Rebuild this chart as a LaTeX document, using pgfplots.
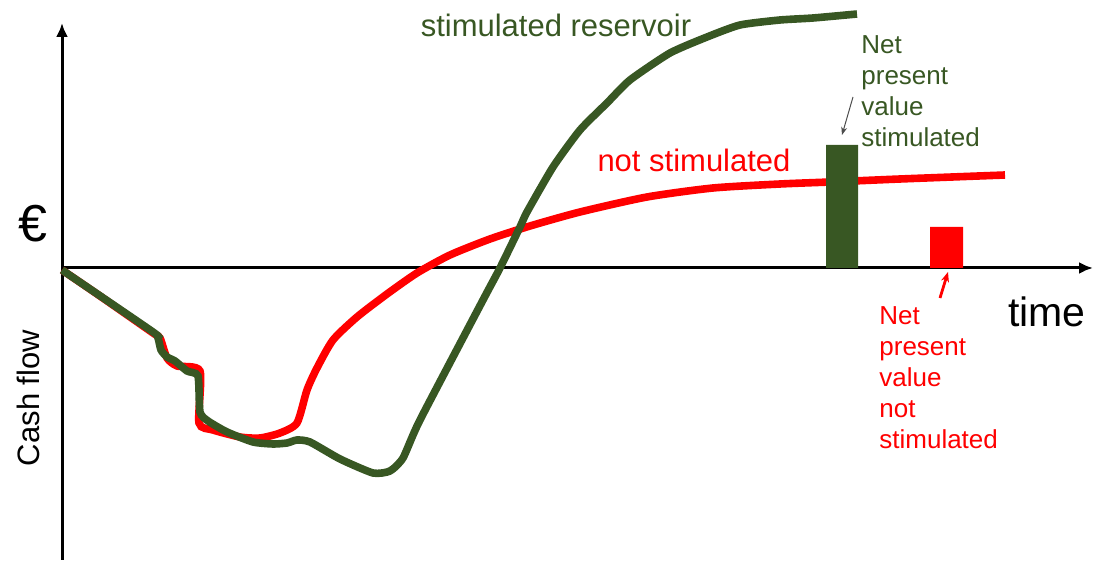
\documentclass[border=0pt]{standalone}
\usepackage{fontspec}
\setmainfont{Liberation Sans}
\usepackage{pgfplots}
\pgfplotsset{compat=1.18}
\usetikzlibrary{arrows.meta}
\definecolor{dkgreen}{RGB}{56,87,35}
\definecolor{myred}{RGB}{255,0,0}
\begin{document}
\begin{tikzpicture}
\begin{axis}[
  scale only axis, width=547pt, height=283.5pt,
  xmin=0, xmax=1094, ymin=-299, ymax=268,
  hide axis, clip=false]
% axes
\addplot[black, line width=1.5pt, -{Latex[length=7pt,width=6pt]}] coordinates {(62,-292) (62,245)};
\addplot[black, line width=1.5pt, -{Latex[length=7pt,width=6pt]}] coordinates {(62,0) (1093,0)};
% not stimulated
\addplot[myred, line width=3.8pt, smooth, tension=0.4] coordinates {
(62,-2) (100,-28) (153,-65) (160,-70) (167,-90) (177,-98) (200,-103)
(199,-155) (213,-162) (240,-169) (260,-170) (280,-165) (297,-155)
(307,-122) (317,-100) (333,-72) (357,-49) (387,-26) (417,-5) (450,13) (490,29)
(530,42) (580,56) (647,71) (713,80) (780,84) (830,86) (900,89) (1005,93)};
% stimulated reservoir
\addplot[dkgreen, line width=3.8pt, smooth, tension=0.35] coordinates {
(62,-2) (153,-64) (158,-70) (161,-82) (167,-89) (175,-93) (187,-103)
(198,-108) (200,-144) (208,-153) (227,-164) (253,-174) (273,-176)
(287,-175) (297,-172) (310,-174) (340,-191) (373,-205) (390,-203)
(403,-190) (420,-152) (483,-32) (500,0) (520,41) (527,56) (553,101)
(580,138) (607,165) (630,188) (670,215) (707,231) (740,243) (780,248)
(813,250) (857,254)};
% net present value bars
\addplot[fill=dkgreen, draw=none] coordinates {(826,0) (826,123) (858,123) (858,0)} \closedcycle;
\addplot[fill=myred, draw=none] coordinates {(930,0) (930,41) (963,41) (963,0)} \closedcycle;
% labels
\node[text=dkgreen, font=\fontsize{15.5pt}{18pt}\selectfont] at (axis cs:556,243) {stimulated reservoir};
\node[text=myred, font=\fontsize{15.5pt}{18pt}\selectfont] at (axis cs:694,108) {not stimulated};
\node[text=dkgreen, font=\fontsize{13pt}{15.5pt}\selectfont, align=left, anchor=north west, inner sep=0pt] at (axis cs:861,233) {Net\\present\\value\\stimulated};
\node[text=myred, font=\fontsize{13pt}{15.5pt}\selectfont, align=left, anchor=north west, inner sep=0pt] at (axis cs:879,-38) {Net\\present\\value\\not\\stimulated};
\node[font=\fontsize{20.5pt}{24pt}\selectfont] at (axis cs:1047,-44) {time};
\node[font=\fontsize{26pt}{30pt}\selectfont] at (axis cs:33,44) {€};
\node[rotate=90, font=\fontsize{15.5pt}{18pt}\selectfont] at (axis cs:28,-130) {Cash flow};
\draw[black!70, line width=0.5pt, -{Stealth[length=4pt,width=3pt]}] (axis cs:853,171) -- (axis cs:842,133);
\draw[myred, line width=1.4pt, -{Stealth[length=5pt,width=4pt]}] (axis cs:940,-30) -- (axis cs:948,-4);
\end{axis}
\pgfresetboundingbox
\path[use as bounding box] (current axis.south west) rectangle (current axis.north east);
\end{tikzpicture}
\end{document}
